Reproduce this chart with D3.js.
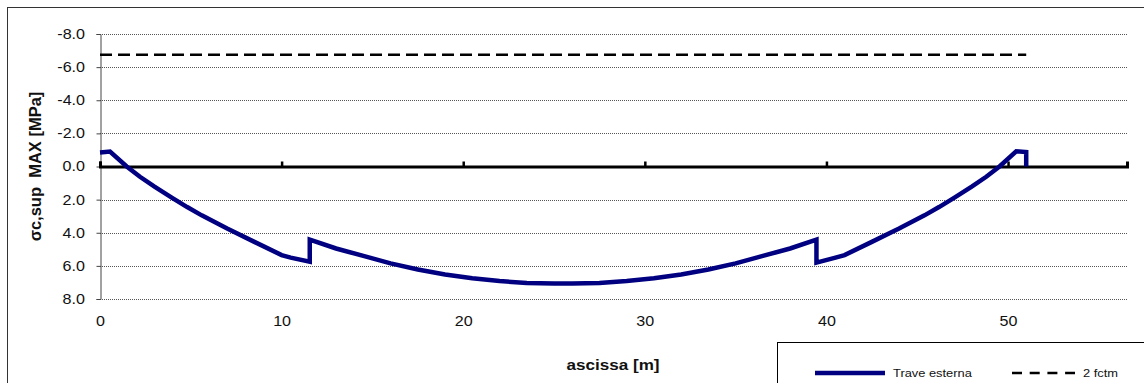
<!DOCTYPE html>
<html>
<head>
<meta charset="utf-8">
<script src="https://cdn.jsdelivr.net/npm/d3@7"></script>
<style>
  body { margin: 0; background: #fff; }
  svg { display: block; font-family: "Liberation Sans", Arial, sans-serif; }
</style>
</head>
<body>
<div class="sigma-chart"></div>
<script>
// trave esterna: ascissa [m] / tensione sup. [MPa] (compressione positiva verso il basso)
let ascissa = [0, 0.55, 1.47, 2.2, 3.0, 3.95, 4.8, 5.6, 7.0, 8.5, 10.0, 10.5, 11.55, 11.55, 13.0, 14.5, 16.0, 17.5, 19.0,
               20.5, 22.0, 23.5, 25.0, 26.0, 27.5, 29.0, 30.5, 32.0, 33.5, 35.0, 36.5, 38.0, 39.45, 39.45,
               40.5, 41.0, 42.5, 44.0, 45.4, 46.2, 47.05, 48.0, 48.8, 49.53, 50.45, 51.0, 51.0];
let sigma = [-0.85, -0.9, 0, 0.62, 1.22, 1.88, 2.45, 2.95, 3.75, 4.55, 5.35, 5.5, 5.75, 4.42, 4.95, 5.4, 5.85, 6.22, 6.52,
             6.75, 6.92, 7.03, 7.07, 7.07, 7.03, 6.92, 6.75, 6.52, 6.22, 5.85, 5.4, 4.95, 4.42, 5.8,
             5.5, 5.35, 4.55, 3.75, 2.95, 2.45, 1.88, 1.22, 0.62, 0, -0.92, -0.87, 0];
let fctmX = [0, 51];
let fctmY = [-6.75, -6.75];

let xTicks = [0, 10, 20, 30, 40, 50];
let yTicks = [-8, -6, -4, -2, 0, 2, 4, 6, 8];
let seriesNames = ["Trave esterna", "2 fctm"];

let width = 1144,
    height = 383;

let x = d3.scaleLinear().domain([0, 56.55]).range([100, 1127]);
let y = d3.scaleLinear().domain([-8, 8]).range([34, 299]);

let svg = d3.select("div.sigma-chart").append("svg")
    .attr("width", width)
    .attr("height", height);

// cornice esterna
svg.append("rect")
    .attr("x", 7.5).attr("y", 7.5)
    .attr("width", 1160).attr("height", 400)
    .attr("fill", "none")
    .attr("stroke", "#333")
    .attr("stroke-width", 1);

// griglia
svg.append("g").selectAll("line")
    .data(yTicks.filter(function(d) { return d !== 0; }))
  .enter().append("line")
    .attr("x1", x(0)).attr("x2", x(56.55))
    .attr("y1", function(d) { return Math.round(y(d)) + 0.5; })
    .attr("y2", function(d) { return Math.round(y(d)) + 0.5; })
    .attr("stroke", "#555")
    .attr("stroke-width", 1)
    .attr("stroke-dasharray", "1,1");

// asse y
let yAxis = svg.append("g")
    .attr("transform", "translate(" + (x(0) + 0.5) + ",0)")
    .call(d3.axisLeft(y).tickValues(yTicks).tickSize(4)
      .tickFormat(function(d) { return d.toFixed(1); }));
yAxis.select(".domain").attr("stroke", "#444");
yAxis.selectAll(".tick line").attr("stroke", "#444");
yAxis.selectAll(".tick text")
    .attr("x", null)
    .attr("transform", "translate(-15.5,0) scale(1.15,1)")
    .attr("font-size", 14)
    .attr("fill", "#111");

// etichette asse x (in basso)
let xLabels = svg.append("g")
    .attr("transform", "translate(0," + y(8) + ")")
    .call(d3.axisBottom(x).tickValues(xTicks).tickSize(0).tickPadding(17));
xLabels.select(".domain").remove();
xLabels.selectAll(".tick text")
    .attr("font-size", 14)
    .attr("fill", "#111")
    .attr("transform", "scale(1.15,1)");

// asse x sullo zero
let xAxis = svg.append("g")
    .attr("transform", "translate(0," + y(0) + ")")
    .call(d3.axisTop(x).tickValues(xTicks).tickSize(5).tickFormat(""));
xAxis.select(".domain")
    .attr("stroke", "#000")
    .attr("stroke-width", 3);
xAxis.selectAll(".tick line")
    .attr("stroke", "#000")
    .attr("stroke-width", 2.5);

let line = d3.line()
    .x(function(d) { return x(d[0]); })
    .y(function(d) { return y(d[1]); });

// 2 fctm
svg.append("path")
    .attr("d", line(d3.zip(fctmX, fctmY)))
    .attr("fill", "none")
    .attr("stroke", "#000")
    .attr("stroke-width", 2.5)
    .attr("stroke-dasharray", "12,6");

// trave esterna
svg.append("path")
    .attr("d", line(d3.zip(ascissa, sigma)))
    .attr("fill", "none")
    .attr("stroke", "#000080")
    .attr("stroke-width", 4.5)
    .attr("stroke-linejoin", "miter");

// titoli
svg.append("text")
    .attr("transform", "translate(41," + y(0) + ") rotate(-90)")
    .attr("text-anchor", "middle")
    .attr("font-size", 16.5)
    .attr("font-weight", "bold")
    .attr("fill", "#111")
    .style("white-space", "pre")
    .text("σc,sup  MAX [MPa]");

svg.append("text")
    .attr("transform", "translate(613,370) scale(1.14,1)")
    .attr("text-anchor", "middle")
    .attr("font-size", 15)
    .attr("font-weight", "bold")
    .attr("fill", "#111")
    .text("ascissa [m]");

// legenda
let legend = svg.append("g");
legend.append("rect")
    .attr("x", 777.5).attr("y", 342.5)
    .attr("width", 420).attr("height", 60)
    .attr("fill", "#fff")
    .attr("stroke", "#000")
    .attr("stroke-width", 1);
legend.append("line")
    .attr("x1", 815).attr("x2", 885).attr("y1", 373).attr("y2", 373)
    .attr("stroke", "#000080").attr("stroke-width", 4.5);
legend.append("line")
    .attr("x1", 1012).attr("x2", 1075).attr("y1", 373).attr("y2", 373)
    .attr("stroke", "#000").attr("stroke-width", 2.5)
    .attr("stroke-dasharray", "10,7.7");
legend.selectAll("text.leg")
    .data(seriesNames)
  .enter().append("text")
    .attr("class", "leg")
    .attr("transform", function(d, i) { return "translate(" + (i === 0 ? 893 : 1083) + ",377) scale(1.12,1)"; })
    .attr("font-size", 11.5)
    .attr("fill", "#111")
    .text(function(d) { return d; });
</script>
</body>
</html>
